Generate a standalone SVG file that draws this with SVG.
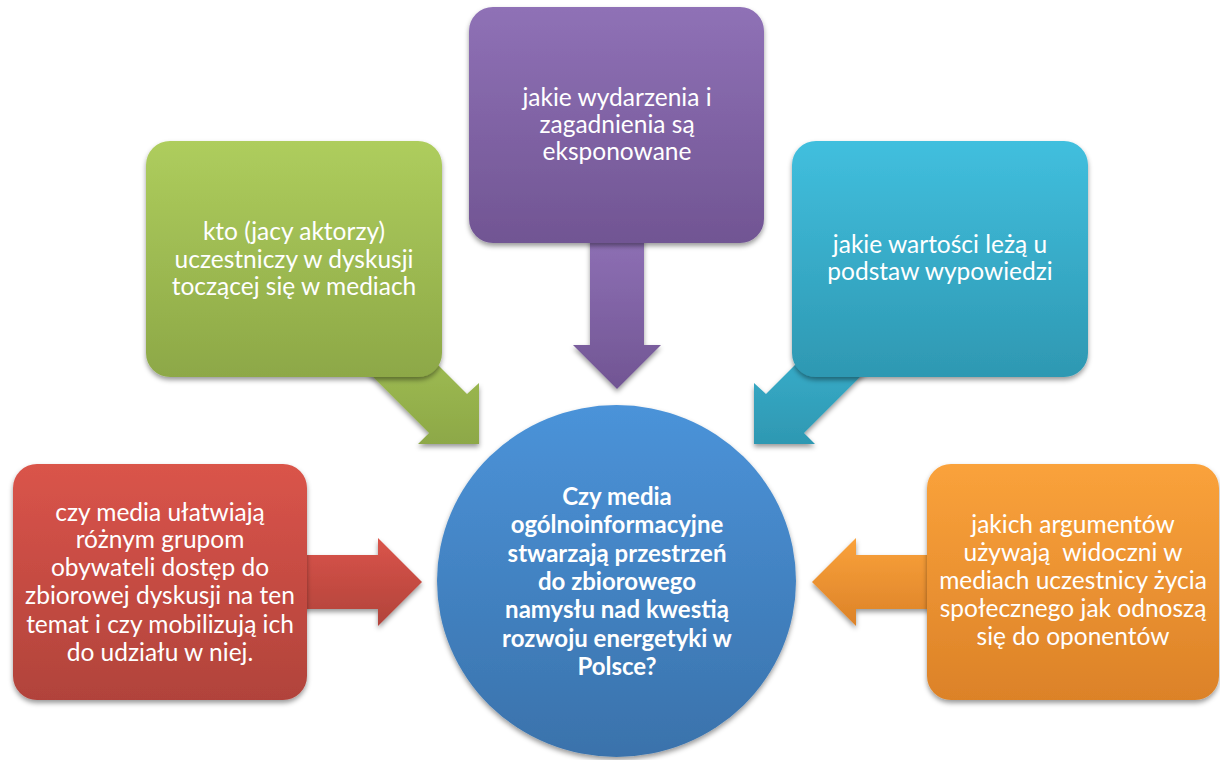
<svg xmlns="http://www.w3.org/2000/svg" width="1220" height="760" viewBox="0 0 1220 760">
  <defs>
    <linearGradient id="gGreen" x1="0" y1="0" x2="0" y2="1">
      <stop offset="0" stop-color="#AECD5D"/>
      <stop offset="1" stop-color="#8DA847"/>
    </linearGradient>
    <linearGradient id="gPurple" x1="0" y1="0" x2="0" y2="1">
      <stop offset="0" stop-color="#8F71B6"/>
      <stop offset="1" stop-color="#715593"/>
    </linearGradient>
    <linearGradient id="gTeal" x1="0" y1="0" x2="0" y2="1">
      <stop offset="0" stop-color="#41BFDE"/>
      <stop offset="1" stop-color="#2E98B2"/>
    </linearGradient>
    <linearGradient id="gRed" x1="0" y1="0" x2="0" y2="1">
      <stop offset="0" stop-color="#DA544A"/>
      <stop offset="1" stop-color="#B1433B"/>
    </linearGradient>
    <linearGradient id="gOrange" x1="0" y1="0" x2="0" y2="1">
      <stop offset="0" stop-color="#FAA23B"/>
      <stop offset="1" stop-color="#DC8228"/>
    </linearGradient>
    <linearGradient id="gBlue" x1="0" y1="0" x2="0" y2="1">
      <stop offset="0" stop-color="#4B93D9"/>
      <stop offset="1" stop-color="#3A72AB"/>
    </linearGradient>
    <filter id="shadow" x="-10%" y="-10%" width="120%" height="125%">
      <feDropShadow dx="0" dy="3" stdDeviation="2.5" flood-color="#000" flood-opacity="0.4"/>
    </filter>
  </defs>
  <style>
    .box { filter: url(#shadow); }
    .arrow { filter: url(#shadow); }
    .label { font-family: Lato, "Open Sans", sans-serif; font-size: 24.5px; fill: #FFFFFF; text-anchor: middle; }
    .hub { font-family: Lato, "Open Sans", sans-serif; font-size: 24px; font-weight: bold; fill: #FFFFFF; text-anchor: middle; }
  </style>

  <rect width="1220" height="760" fill="#FFFFFF"/>

  <!-- block arrows pointing at the hub -->
  <g id="connectors">
    <path class="arrow" fill="url(#gGreen)" d="M347,274 L467,394 L479,383 L479,444 L418,444 L429,433 L309,313 Z"/>
    <path class="arrow" fill="url(#gPurple)" d="M590,230 L644,230 L644,345 L661,345 L617,389 L573,345 L590,345 Z"/>
    <path class="arrow" fill="url(#gTeal)" d="M886,274 L766,394 L754,383 L754,444 L815,444 L804,433 L924,313 Z"/>
    <path class="arrow" fill="url(#gRed)" d="M290,555 L378,555 L378,538 L422,582 L378,626 L378,609 L290,609 Z"/>
    <path class="arrow" fill="url(#gOrange)" d="M940,555 L856,555 L856,538 L812,582 L856,626 L856,609 L940,609 Z"/>
  </g>

  <g id="node-actors">
    <rect class="box" x="146" y="141" width="296" height="236" rx="24" fill="url(#gGreen)"/>
    <text class="label" x="294" y="240">kto (jacy aktorzy)</text>
    <text class="label" x="294" y="267.5">uczestniczy w dyskusji</text>
    <text class="label" x="294" y="295">toczącej się w mediach</text>
  </g>

  <g id="node-events">
    <rect class="box" x="469" y="7" width="295" height="236" rx="24" fill="url(#gPurple)"/>
    <text class="label" x="617" y="106">jakie wydarzenia i</text>
    <text class="label" x="617" y="133">zagadnienia są</text>
    <text class="label" x="617" y="160">eksponowane</text>
  </g>

  <g id="node-values">
    <rect class="box" x="792" y="141" width="296" height="236" rx="24" fill="url(#gTeal)"/>
    <text class="label" x="940" y="253">jakie wartości leżą u</text>
    <text class="label" x="940" y="280">podstaw wypowiedzi</text>
  </g>

  <g id="node-access">
    <rect class="box" x="13" y="464" width="294" height="236" rx="24" fill="url(#gRed)"/>
    <text class="label" x="160" y="521">czy media ułatwiają</text>
    <text class="label" x="160" y="548">różnym grupom</text>
    <text class="label" x="160" y="576">obywateli dostęp do</text>
    <text class="label" x="160" y="604">zbiorowej dyskusji na ten</text>
    <text class="label" x="160" y="633">temat i czy mobilizują ich</text>
    <text class="label" x="160" y="661">do udziału w niej.</text>
  </g>

  <g id="node-arguments">
    <rect class="box" x="927" y="464" width="292" height="236" rx="24" fill="url(#gOrange)"/>
    <text class="label" x="1073" y="533">jakich argumentów</text>
    <text class="label" x="1073" y="561" xml:space="preserve">używają  widoczni w</text>
    <text class="label" x="1073" y="589">mediach uczestnicy życia</text>
    <text class="label" x="1073" y="617">społecznego jak odnoszą</text>
    <text class="label" x="1073" y="645">się do oponentów</text>
  </g>

  <g id="node-question">
    <ellipse class="box" cx="616.5" cy="581" rx="179.5" ry="176" fill="url(#gBlue)"/>
    <text class="hub" x="617" y="505">Czy media</text>
    <text class="hub" x="617" y="533">ogólnoinformacyjne</text>
    <text class="hub" x="617" y="561.5">stwarzają przestrzeń</text>
    <text class="hub" x="617" y="590">do zbiorowego</text>
    <text class="hub" x="617" y="618">namysłu nad kwestią</text>
    <text class="hub" x="617" y="646.5">rozwoju energetyki w</text>
    <text class="hub" x="617" y="675">Polsce?</text>
  </g>
</svg>
